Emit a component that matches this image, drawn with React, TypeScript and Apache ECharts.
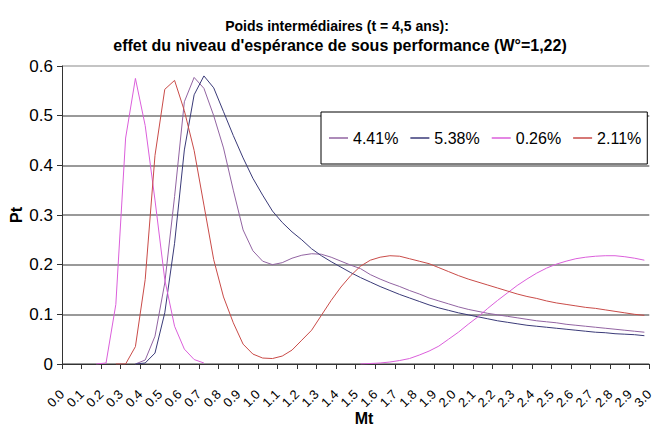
import React, { useEffect, useRef } from "react";
import * as echarts from "echarts";

const titleLines = [
  "Poids intermédiaires (t = 4,5 ans):",
  "effet du niveau d'espérance de sous performance (W°=1,22)",
];
const yAxisTitle = "Pt";
const xAxisTitle = "Mt";

const seriesNames = ["4.41%", "5.38%", "0.26%", "2.11%"];

// Mt positions of the plotted points
const mtPoints = [
  0.025, 0.075, 0.125, 0.175, 0.225, 0.275, 0.325, 0.375, 0.425, 0.475,
  0.525, 0.575, 0.625, 0.675, 0.725, 0.775, 0.825, 0.875, 0.925, 0.975,
  1.025, 1.075, 1.125, 1.175, 1.225, 1.275, 1.325, 1.375, 1.425, 1.475,
  1.525, 1.575, 1.625, 1.675, 1.725, 1.775, 1.825, 1.875, 1.925, 1.975,
  2.025, 2.075, 2.125, 2.175, 2.225, 2.275, 2.325, 2.375, 2.425, 2.475,
  2.525, 2.575, 2.625, 2.675, 2.725, 2.775, 2.825, 2.875, 2.925, 2.975,
];

const pt441 = [
  null, null, null, null, null, null, null, 0, 0.008, 0.056,
  0.163, 0.337, 0.528, 0.577, 0.555, 0.5, 0.435, 0.35, 0.27, 0.228,
  0.207, 0.2, 0.204, 0.213, 0.219, 0.222, 0.221, 0.215, 0.207, 0.199,
  0.192, 0.18, 0.171, 0.163, 0.156, 0.148, 0.141, 0.133, 0.127, 0.121,
  0.115, 0.11, 0.106, 0.102, 0.099, 0.096, 0.093, 0.09, 0.087, 0.085,
  0.083, 0.08, 0.078, 0.076, 0.074, 0.072, 0.07, 0.068, 0.066, 0.064,
];

const pt538 = [
  null, null, null, null, null, null, null, 0, 0.002, 0.022,
  0.103, 0.243, 0.431, 0.542, 0.58, 0.556, 0.508, 0.46, 0.415, 0.374,
  0.34, 0.308, 0.285, 0.266, 0.25, 0.232, 0.218, 0.206, 0.195, 0.184,
  0.174, 0.165, 0.156, 0.148, 0.14, 0.133, 0.126, 0.119, 0.113, 0.108,
  0.103, 0.099, 0.095, 0.091, 0.087, 0.084, 0.081, 0.078, 0.076, 0.074,
  0.072, 0.07, 0.068, 0.066, 0.064, 0.063, 0.061, 0.06, 0.059, 0.057,
];

const pt026 = [
  null, null, null, 0, 0.002, 0.12, 0.455, 0.575, 0.48, 0.33,
  0.17, 0.076, 0.03, 0.009, 0.002, null, null, null, null, null,
  null, null, null, null, null, null, null, null, null, null,
  0, 0.001, 0.002, 0.004, 0.007, 0.011, 0.018, 0.026, 0.036, 0.05,
  0.064, 0.08, 0.095, 0.112, 0.128, 0.143, 0.158, 0.171, 0.183, 0.193,
  0.201, 0.207, 0.212, 0.215, 0.217, 0.218, 0.218, 0.216, 0.213, 0.209,
];

const pt211 = [
  null, null, null, null, null, 0, 0, 0.035, 0.17, 0.42,
  0.553, 0.571, 0.51, 0.43, 0.32, 0.21, 0.135, 0.083, 0.04, 0.02,
  0.012, 0.011, 0.016, 0.028, 0.048, 0.068, 0.098, 0.128, 0.155, 0.178,
  0.197, 0.209, 0.215, 0.218, 0.217, 0.212, 0.207, 0.202, 0.194, 0.186,
  0.178, 0.171, 0.165, 0.159, 0.153, 0.147, 0.141, 0.136, 0.132, 0.127,
  0.123, 0.12, 0.117, 0.114, 0.112, 0.109, 0.106, 0.103, 0.1, 0.098,
];

const seriesValues = [pt441, pt538, pt026, pt211];
const seriesColors = ["#9264A2", "#3A3A78", "#DB5FDB", "#C94B48"];

const FONT = "'Liberation Sans', Arial, sans-serif";

export default function App() {
  const ref = useRef<HTMLDivElement>(null);

  useEffect(() => {
    if (!ref.current) return;
    const chart = echarts.init(ref.current, undefined, { renderer: "svg" });

    const series = seriesNames.map((name, si) => ({
      name,
      type: "line",
      symbol: "none",
      connectNulls: false,
      lineStyle: { width: 1, color: seriesColors[si] },
      itemStyle: { color: seriesColors[si] },
      data: mtPoints.map((x, i) => [x, seriesValues[si][i]]),
    }));

    const textEl = (text: string, x: number, y: number, size: number, rotation = 0) => ({
      type: "text",
      x,
      y,
      rotation,
      style: {
        text,
        font: `bold ${size}px ${FONT}`,
        fill: "#000",
        textAlign: "center",
        textVerticalAlign: "middle",
      },
    });

    chart.setOption({
      animation: false,
      textStyle: { fontFamily: FONT },
      grid: { left: 62, top: 66, width: 595, height: 298, containLabel: false },
      graphic: [
        textEl(titleLines[0], 337, 26, 14),
        textEl(titleLines[1], 340, 45, 16),
        textEl(yAxisTitle, 16, 215, 16, Math.PI / 2),
        textEl(xAxisTitle, 364, 418, 16),
      ],
      legend: {
        left: 321,
        top: 112,
        orient: "horizontal",
        icon: "rect",
        itemWidth: 19,
        itemHeight: 1.5,
        itemGap: 12,
        padding: [18, 6, 18, 8],
        borderColor: "#000",
        borderWidth: 1,
        backgroundColor: "#fff",
        textStyle: { fontSize: 16, color: "#000", fontFamily: FONT },
        data: seriesNames,
      },
      xAxis: {
        type: "value",
        min: 0,
        max: 3,
        interval: 0.1,
        axisLine: { show: true, lineStyle: { color: "#333", width: 1 } },
        axisTick: { show: true, length: 5, inside: false, lineStyle: { color: "#333" } },
        splitLine: { show: false },
        axisLabel: {
          rotate: 45,
          fontSize: 13,
          color: "#000",
          margin: 28,
          fontFamily: FONT,
          formatter: (v: number) => v.toFixed(1),
          showMinLabel: true,
          showMaxLabel: true,
        },
      },
      yAxis: {
        type: "value",
        min: 0,
        max: 0.6,
        interval: 0.1,
        axisLine: { show: true, lineStyle: { color: "#333", width: 1 } },
        axisTick: { show: true, length: 5, inside: false, lineStyle: { color: "#333" } },
        splitLine: {
          show: true,
          lineStyle: {
            color: ["#999", "#999", "#999", "#999", "#999", "#999", "#c4c4c4"],
            width: 2,
          },
        },
        axisLabel: {
          fontSize: 17,
          color: "#000",
          margin: 9,
          fontFamily: FONT,
          formatter: (v: number) => (v === 0 ? "0" : v.toFixed(1)),
        },
      },
      series,
    });

    return () => chart.dispose();
  }, []);

  return (
    <div
      ref={ref}
      style={{ position: "absolute", left: 0, top: 0, width: 656, height: 434, background: "#fff" }}
    />
  );
}
